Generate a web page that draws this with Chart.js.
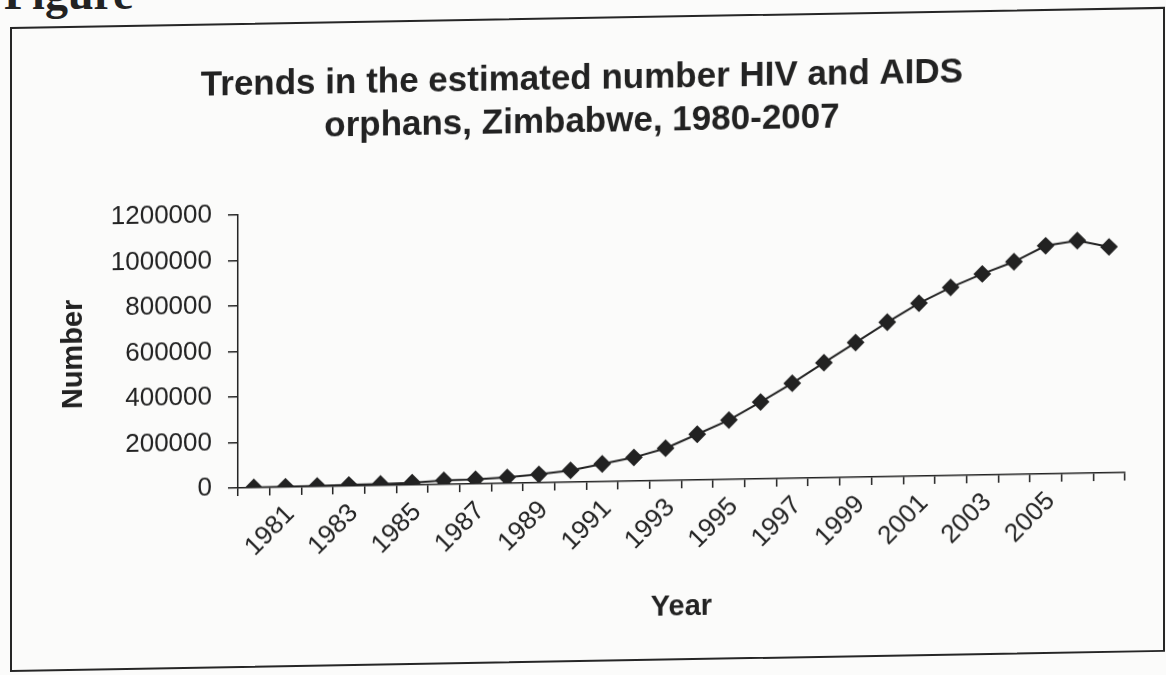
<!DOCTYPE html>
<html>
<head>
<meta charset="utf-8">
<script src="https://cdn.jsdelivr.net/npm/chart.js@4/dist/chart.umd.min.js"></script>
<style>
  html, body { margin: 0; padding: 0; background: #fbfbfa; overflow: hidden; }
  #page { position: relative; width: 1166px; height: 675px; overflow: hidden; }
  #caption {
    position: absolute; left: 4px; top: -29px; white-space: nowrap;
    font: bold 46px/46px "Liberation Serif", serif; color: #222;
  }
  #sheet {
    position: absolute; left: 0; top: 0; width: 1166px; height: 675px;
    transform: skewY(-1deg); transform-origin: 583px 337px;
  }
  #frame {
    position: absolute; left: 10px; top: 17px; width: 1151px; height: 641px;
    border: 2px solid #262626;
  }
  #wrap { position: absolute; left: 0; top: 0; width: 1166px; height: 675px; }
</style>
</head>
<body>
<div id="page">
  <div id="caption">Figure</div>
  <div id="sheet">
    <div id="frame"></div>
    <div id="wrap"><canvas id="orphans"></canvas></div>
  </div>
</div>
<script>
// estimated HIV/AIDS orphans, Zimbabwe
const years = ['1980', '1981', '1982', '1983', '1984', '1985', '1986', '1987', '1988', '1989',
               '1990', '1991', '1992', '1993', '1994', '1995', '1996', '1997', '1998', '1999',
               '2000', '2001', '2002', '2003', '2004', '2005', '2006', '2007'];
const orphans = [1000, 2000, 3000, 5000, 7000, 10000, 18000, 20000, 26000, 37000,
                 52000, 78000, 104000, 142000, 201000, 261000, 338000, 418000, 506000, 592000,
                 679000, 760000, 827000, 884000, 935000, 1003000, 1023000, 993000];
// only every other year gets a label on the x axis
const yearTicks = ['1981', '1983', '1985', '1987', '1989', '1991', '1993',
                   '1995', '1997', '1999', '2001', '2003', '2005'];
const yTicks = [0, 200000, 400000, 600000, 800000, 1000000, 1200000];

const ink = '#222222';
const sans = '"Liberation Sans", Arial, sans-serif';

new Chart(document.getElementById('orphans'), {
  type: 'line',
  data: {
    labels: years,
    datasets: [{
      label: 'Orphans',
      data: orphans,
      borderColor: ink,
      borderWidth: 2,
      backgroundColor: ink,
      pointStyle: 'rectRot',
      pointRadius: 7.5,
      pointBackgroundColor: ink,
      pointBorderColor: ink,
      tension: 0
    }]
  },
  options: {
    responsive: true,
    maintainAspectRatio: false,
    animation: false,
    layout: { padding: { left: 39, right: 41, top: 20, bottom: 30 } },
    plugins: {
      legend: { display: false },
      tooltip: { enabled: false },
      title: {
        display: true,
        text: ['Trends in the estimated number HIV and AIDS', 'orphans, Zimbabwe, 1980-2007'],
        color: ink,
        font: { family: sans, size: 35, weight: 'bold', lineHeight: 1.25 },
        padding: { top: 37, bottom: 64.5 }
      }
    },
    scales: {
      x: {
        offset: true,
        afterFit: (s) => { s.height = 163; },
        grid: { display: true, drawOnChartArea: false, drawTicks: true, tickLength: 8, offset: true, color: ink, lineWidth: 1.5 },
        border: { color: ink, width: 1.5 },
        ticks: {
          autoSkip: false,
          maxRotation: 45,
          minRotation: 45,
          padding: 4,
          labelOffset: 5,
          color: ink,
          font: { family: sans, size: 26 },
          callback: (v, i) => yearTicks.includes(years[i]) ? years[i] : ''
        },
        title: {
          display: true,
          text: 'Year',
          color: ink,
          font: { family: sans, size: 29, weight: 'bold' },
          padding: { top: 0, bottom: 19 }
        }
      },
      y: {
        min: 0,
        max: 1200000,
        afterFit: (s) => { s.width = 199; },
        afterBuildTicks: (s) => { s.ticks = yTicks.map(v => ({ value: v })); },
        grid: { display: true, drawOnChartArea: false, drawTicks: true, tickLength: 10, color: ink, lineWidth: 1.5 },
        border: { color: ink, width: 1.5 },
        ticks: {
          padding: 16,
          color: ink,
          font: { family: sans, size: 26 },
          callback: (v) => String(v)
        },
        title: {
          display: true,
          text: 'Number',
          color: ink,
          font: { family: sans, size: 29, weight: 'bold' },
          padding: { top: 18, bottom: 0 }
        }
      }
    }
  }
});
</script>
</body>
</html>
